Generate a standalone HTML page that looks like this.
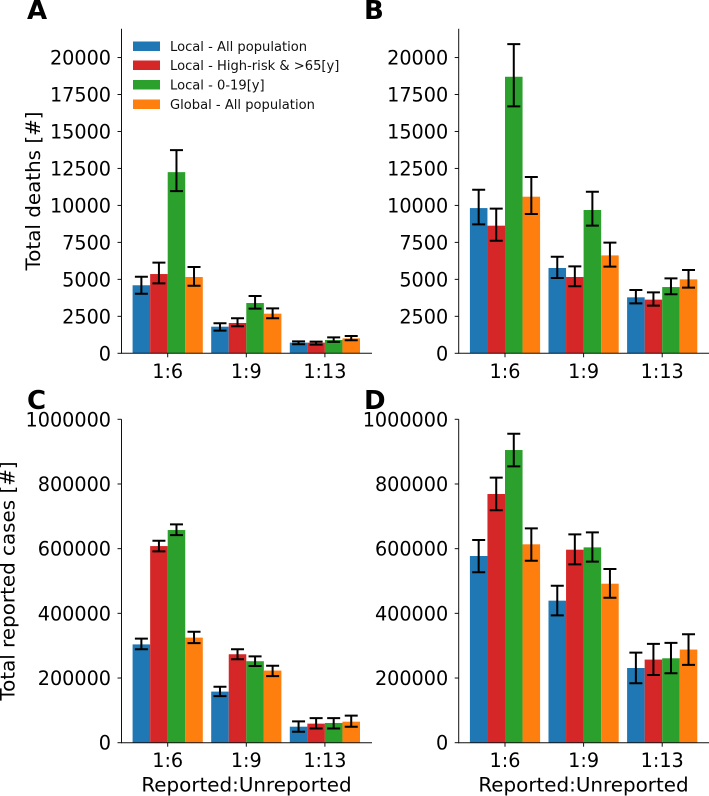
<!DOCTYPE html>
<html lang="en">
<head>
<meta charset="utf-8">
<title>Total deaths and reported cases by reporting ratio</title>
<style>
html,body{margin:0;padding:0;background:#fff;width:709px;height:796px;overflow:hidden}
svg{display:block}
text{font-family:"DejaVu Sans","Liberation Sans",sans-serif;fill:#000}
.tick{font-size:19.2px}
.title{font-size:19.9px}
.letter{font-size:26px;font-weight:bold}
.legend{font-size:13.1px;fill:#111}
</style>
</head>
<body>
<svg id="figure" xmlns="http://www.w3.org/2000/svg" width="709" height="796" viewBox="0 0 709 796">
  <g id="panel-a"></g>
  <g id="panel-b"></g>
  <g id="panel-c"></g>
  <g id="panel-d"></g>

  <text class="letter" x="27" y="19">A</text>
  <text class="letter" x="364" y="19">B</text>
  <text class="letter" x="27" y="409">C</text>
  <text class="letter" x="364" y="409">D</text>

  <text class="title" transform="translate(40,191) rotate(-90)" text-anchor="middle">Total deaths [#]</text>
  <text class="title" transform="translate(14.5,581) rotate(-90)" text-anchor="middle">Total reported cases [#]</text>
  <text class="title" x="246.5" y="791.5" text-anchor="middle">Reported:Unreported</text>
  <text class="title" x="583.5" y="791.5" text-anchor="middle">Reported:Unreported</text>

  <g>
    <g>
      <rect x="133" y="41.5" width="27" height="9.5" fill="#1f77b4"></rect>
      <text class="legend" x="170" y="51">Local - All population</text>
    </g>
    <g>
      <rect x="133" y="60.5" width="27" height="9.5" fill="#d62728"></rect>
      <text class="legend" x="170" y="70">Local - High-risk &amp; &gt;65[y]</text>
    </g>
    <g>
      <rect x="133" y="80" width="27" height="9.5" fill="#2ca02c"></rect>
      <text class="legend" x="170" y="89.5">Local - 0-19[y]</text>
    </g>
    <g>
      <rect x="133" y="99.5" width="27" height="9.5" fill="#ff7f0e"></rect>
      <text class="legend" x="170" y="109">Global - All population</text>
    </g>
  </g>
</svg>

<script>
// Shared labels
const categories = ['1:6', '1:9', '1:13'];
const seriesNames = ['local-all', 'local-high-risk', 'local-young', 'global-all'];
const seriesColors = ['#1f77b4', '#d62728', '#2ca02c', '#ff7f0e'];
const deathTicks = [0, 2500, 5000, 7500, 10000, 12500, 15000, 17500, 20000];
const caseTicks = [0, 200000, 400000, 600000, 800000, 1000000];
const deathMax = 21950;
const caseMax = 1000000;

// Panel A: one row per series, one column per category
const valuesA = [[4600, 1800, 720], [5360, 2050, 720], [12250, 3400, 900], [5160, 2680, 1010]];
const lowerA = [[4030, 1530, 610], [4730, 1825, 590], [10970, 3020, 770], [4570, 2370, 880]];
const upperA = [[5180, 2030, 810], [6130, 2370, 790], [13740, 3875, 1080], [5835, 3040, 1170]];

// Panel B
const valuesB = [[9820, 5770, 3785], [8630, 5160, 3630], [18700, 9690, 4480], [10590, 6620, 5000]];
const lowerB = [[8720, 5090, 3380], [7615, 4530, 3220], [16700, 8630, 3990], [9420, 5860, 4440]];
const upperB = [[11060, 6530, 4280], [9780, 5880, 4120], [20910, 10925, 5070], [11920, 7480, 5630]];

// Panel C
const valuesC = [[304000, 158000, 49500], [608000, 273500, 59000], [657600, 252000, 61000], [325000, 223000, 65000]];
const lowerC = [[289000, 144000, 34000], [591700, 258000, 44000], [642000, 237000, 44000], [308000, 206000, 49500]];
const upperC = [[322000, 173000, 66000], [624600, 289000, 76000], [675000, 267000, 76000], [343000, 238000, 83600]];

// Panel D
const valuesD = [[577300, 439200, 231000], [769000, 596800, 257000], [905000, 604000, 261000], [613400, 491600, 288000]];
const lowerD = [[526900, 393800, 183700], [718600, 551500, 209500], [854600, 559800, 214700], [562800, 448300, 240500]];
const upperD = [[626700, 485500, 278600], [819500, 644300, 305500], [955500, 650400, 308600], [662800, 537100, 335400]];

const SVG_NS = 'http://www.w3.org/2000/svg';

function make(parent, tag, attrs, text) {
  const el = document.createElementNS(SVG_NS, tag);
  for (const key in attrs) el.setAttribute(key, attrs[key]);
  if (text !== undefined) el.textContent = text;
  parent.appendChild(el);
  return el;
}

function drawPanel(id, frame, ticks, yMax, values, lower, upper) {
  const root = document.getElementById(id);
  const categoryStep = 78.6;
  const barWidth = 17.55;
  const xAxis = function (c) { return frame.firstX + c * categoryStep; };
  const yAxis = function (v) { return frame.bottom - (v / yMax) * (frame.bottom - frame.top); };

  values.forEach(function (row, s) {
    row.forEach(function (value, c) {
      const left = xAxis(c) + (s - 2) * barWidth;
      const bar = make(root, 'rect', { x: left, y: yAxis(value), width: barWidth, height: yAxis(0) - yAxis(value), fill: seriesColors[s] });
      
      
    });
  });

  values.forEach(function (row, s) {
    row.forEach(function (value, c) {
      const mid = xAxis(c) + (s - 1.5) * barWidth;
      const yLow = yAxis(lower[s][c]);
      const yHigh = yAxis(upper[s][c]);
      const err = make(root, 'path', {
        d: 'M' + mid + ' ' + yLow + 'V' + yHigh + 'M' + (mid - 6.5) + ' ' + yLow + 'H' + (mid + 6.5) + 'M' + (mid - 6.5) + ' ' + yHigh + 'H' + (mid + 6.5),
        fill: 'none', stroke: '#000', 'stroke-width': 2
      });
      
      
    });
  });

  const ySpine = make(root, 'line', { x1: frame.left, x2: frame.left, y1: frame.top, y2: frame.bottom + 0.5, stroke: '#111', 'stroke-width': 1 });
  
  
  const xSpine = make(root, 'line', { x1: frame.left, x2: frame.right, y1: frame.bottom, y2: frame.bottom, stroke: '#111', 'stroke-width': 1 });
  
  

  ticks.forEach(function (tick) {
    const y = yAxis(tick);
    const mark = make(root, 'line', { x1: frame.left - 4, x2: frame.left, y1: y, y2: y, stroke: '#111', 'stroke-width': 1 });
    
    
    const label = make(root, 'text', { class: 'tick', x: frame.left - 10.5, y: y + 7, 'text-anchor': 'end' }, String(tick));
    
    
  });

  categories.forEach(function (category, c) {
    const x = xAxis(c);
    const mark = make(root, 'line', { x1: x, x2: x, y1: frame.bottom, y2: frame.bottom + 4, stroke: '#111', 'stroke-width': 1 });
    
    
    const label = make(root, 'text', { class: 'tick', x: x, y: frame.bottom + 24.5, 'text-anchor': 'middle' }, category);
    
    
  });
}

drawPanel('panel-a', { left: 121.5, right: 372, top: 28.7, bottom: 353.3, firstX: 167.7 }, deathTicks, deathMax, valuesA, lowerA, upperA);
drawPanel('panel-b', { left: 458.7, right: 709, top: 28.7, bottom: 353.3, firstX: 505 }, deathTicks, deathMax, valuesB, lowerB, upperB);
drawPanel('panel-c', { left: 121.5, right: 372, top: 419.3, bottom: 742.7, firstX: 167.7 }, caseTicks, caseMax, valuesC, lowerC, upperC);
drawPanel('panel-d', { left: 458.7, right: 709, top: 419.3, bottom: 742.7, firstX: 505 }, caseTicks, caseMax, valuesD, lowerD, upperD);
</script>
</body>
</html>
